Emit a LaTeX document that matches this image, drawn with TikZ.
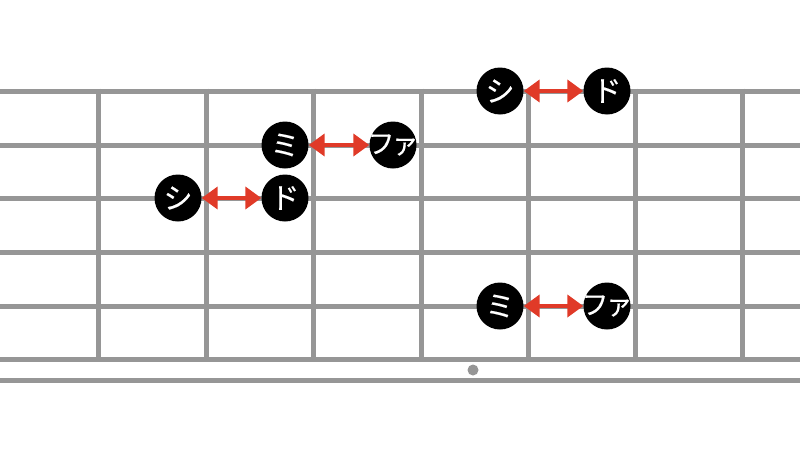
\documentclass[tikz,border=0pt]{standalone}
\usepackage{fontspec}
\newfontfamily\jp{Noto Sans CJK JP}[FakeBold=0.3]
\usetikzlibrary{arrows.meta}
\definecolor{fret}{HTML}{969696}
\definecolor{arr}{HTML}{E03A28}
\tikzset{
  fretline/.style={draw=fret,line width=5pt},
  note/.style={circle,fill=black,minimum size=47pt,inner sep=0pt,text=white,font=\jp\fontsize{29}{29}\selectfont},
  interval/.style={draw=arr,line width=4pt,{Triangle[length=16pt,width=22pt]}-{Triangle[length=16pt,width=22pt]}}
}
\newcommand{\fa}{\makebox[0pt]{\fontsize{27}{27}\selectfont フ\kern-3pt ァ}}
\begin{document}
\begin{tikzpicture}[x=1pt,y=-1pt]
\useasboundingbox (0,0) rectangle (800,450);
% strings
\foreach \y in {91,145,198,252,306,359} \draw[fretline] (0,\y) -- (800,\y);
\draw[fretline] (0,380) -- (800,380);
% frets
\foreach \x in {98,206,313,421,528,635,742} \draw[fretline] (\x,88.5) -- (\x,361.5);
\node[circle,fill=fret,minimum size=11pt,inner sep=0pt] (dot) at (473,370) {};
% notes
\node[note] (si1) at (178,198) {シ};
\node[note] (do1) at (285,198) {ド};
\node[note] (mi1) at (285,145) {ミ};
\node[note] (fa1) at (393,145) {\fa};
\node[note] (si2) at (500,91) {シ};
\node[note] (do2) at (607,91) {ド};
\node[note] (mi2) at (500,306) {ミ};
\node[note] (fa2) at (607,306) {\fa};
\draw[interval] (si1) -- (do1);
\draw[interval] (mi1) -- (fa1);
\draw[interval] (si2) -- (do2);
\draw[interval] (mi2) -- (fa2);
\end{tikzpicture}
\end{document}
